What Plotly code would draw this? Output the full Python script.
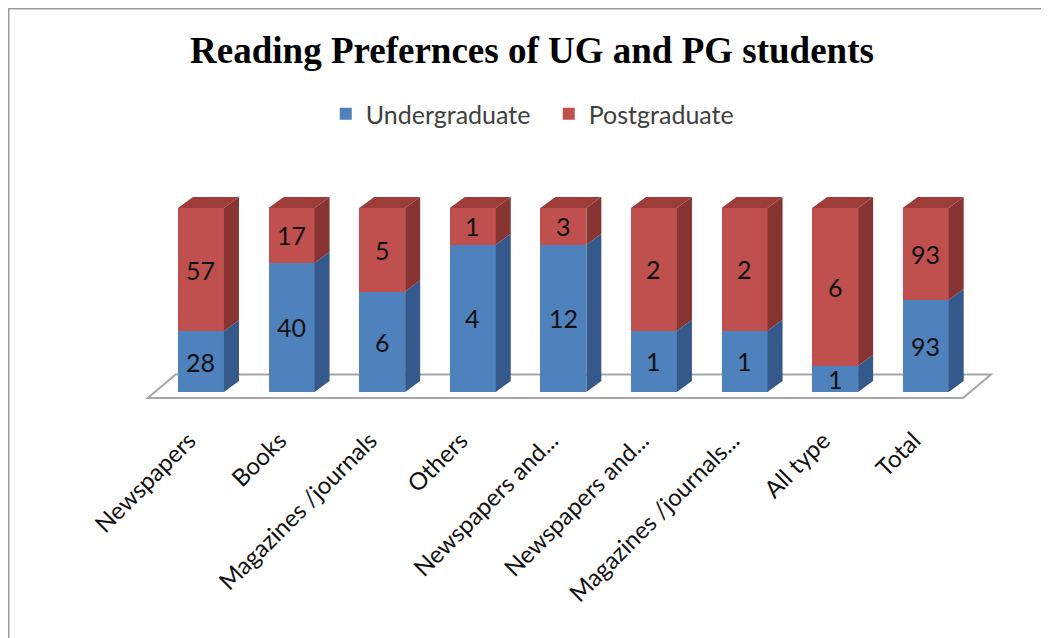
import plotly.graph_objects as go

categories = ["Newspapers", "Books", "Magazines /journals", "Others", "Newspapers and...",
              "Newspapers and...", "Magazines /journals...", "All type", "Total"]
undergraduate = [28, 40, 6, 4, 12, 1, 1, 1, 93]
postgraduate = [57, 17, 5, 1, 3, 2, 2, 6, 93]

FONT = "Lato, Carlito, Calibri, sans-serif"
BLUE, BLUE_SIDE = "#4F81BD", "#35598A"
RED, RED_SIDE, RED_TOP = "#C0504D", "#883432", "#9E3C39"

# figure is offset 8px by the page body margin
FW, FH = 1041, 630
ML, MT, MR, MB = 132, 142, 49, 238
PW, PH = FW - ML - MR, FH - MT - MB          # 860 x 250
XR = [-0.673, 8.82]
YR = [-4.35, 131.5]
PX_X = PW / (XR[1] - XR[0])
PX_Y = PH / (YR[1] - YR[0])
W = 46 / PX_X
DDX, DDY = 15 / PX_X, 11 / PX_Y

n = len(categories)
xs = list(range(n))
ug_pct = [u / (u + p) * 100 for u, p in zip(undergraduate, postgraduate)]

fig = go.Figure()

def side(y0s, y1s):
    px, py = [], []
    for i, a, b in zip(xs, y0s, y1s):
        xr = i + W / 2
        px += [xr, xr + DDX, xr + DDX, xr, xr, None]
        py += [a, a + DDY, b + DDY, b, a, None]
    return px, py

bx, by = side([0] * n, ug_pct)
fig.add_trace(go.Scatter(x=bx, y=by, mode="lines", fill="toself", fillcolor=BLUE_SIDE,
                         line=dict(width=0), hoverinfo="skip", showlegend=False))
rx, ry = side(ug_pct, [100] * n)
fig.add_trace(go.Scatter(x=rx, y=ry, mode="lines", fill="toself", fillcolor=RED_SIDE,
                         line=dict(width=0), hoverinfo="skip", showlegend=False))
tx, ty = [], []
for i in xs:
    xl, xr = i - W / 2, i + W / 2
    tx += [xl, xr, xr + DDX, xl + DDX, xl, None]
    ty += [100, 100, 100 + DDY, 100 + DDY, 100, None]
fig.add_trace(go.Scatter(x=tx, y=ty, mode="lines", fill="toself", fillcolor=RED_TOP,
                         line=dict(width=0), hoverinfo="skip", showlegend=False,
                         cliponaxis=False))

fig.add_trace(go.Bar(x=xs, y=undergraduate, name="Undergraduate",
                     marker=dict(color=BLUE, line=dict(width=0)), width=W))
fig.add_trace(go.Bar(x=xs, y=postgraduate, name="Postgraduate",
                     marker=dict(color=RED, line=dict(width=0)), width=W))

for i, u, p, up in zip(xs, undergraduate, postgraduate, ug_pct):
    fig.add_annotation(x=i, y=up / 2, text=str(u), showarrow=False,
                       font=dict(family=FONT, size=25, color="#111"))
    fig.add_annotation(x=i, y=up + (100 - up) / 2, text=str(p), showarrow=False,
                       font=dict(family=FONT, size=25, color="#111"))

# floor (below the bars)
fx0, fy0 = -8 / PX_X, -6 / PX_Y
fx1, fy1 = 20 / PX_X, 17.5 / PX_Y
pts = [(-0.5 + fx0, fy0), (n - 0.5 + fx0, fy0), (n - 0.5 + fx1, fy1), (-0.5 + fx1, fy1)]
floor_path = "M " + " L ".join(f"{a},{b}" for a, b in pts) + " Z"

fig.update_layout(
    barmode="stack", barnorm="percent",
    width=FW, height=FH,
    margin=dict(l=ML, r=MR, t=MT, b=MB, autoexpand=False),
    paper_bgcolor="white", plot_bgcolor="white",
    title=dict(text="<b>Reading Prefernces of UG and PG students</b>",
               font=dict(family="Liberation Serif, Times New Roman, serif", size=37, color="black"),
               x=(532 - 8) / FW, xref="container", xanchor="center",
               y=1 - (50 - 8) / FH, yref="container", yanchor="middle"),
    legend=dict(orientation="h", x=0.216, xanchor="left", y=1.236, yanchor="top",
                font=dict(family=FONT, size=25, color="#404040"), traceorder="normal",
                entrywidth=178, entrywidthmode="pixels",
                bgcolor="rgba(0,0,0,0)"),
    xaxis=dict(range=XR, tickmode="array", tickvals=xs, ticktext=categories,
               tickangle=-45, ticks="outside", ticklen=16, tickcolor="rgba(0,0,0,0)",
               ticklabelshift=-12,
               tickfont=dict(family=FONT, size=24, color="#111"),
               showgrid=False, zeroline=False, showline=False, fixedrange=True,
               automargin=False),
    yaxis=dict(range=YR, visible=False, showgrid=False, zeroline=False, automargin=False),
    shapes=[
        dict(type="path", xref="x", yref="y", path=floor_path, fillcolor="white",
             line=dict(color="#A6A6A6", width=2), layer="below"),
        dict(type="rect", xref="paper", yref="paper",
             x0=(0 - ML) / PW, x1=1.3, y0=-1.5, y1=1 + MT / PH,
             line=dict(color="#9A9A9A", width=3), fillcolor="rgba(0,0,0,0)", layer="below"),
    ],
)

fig.write_html("out.html")
